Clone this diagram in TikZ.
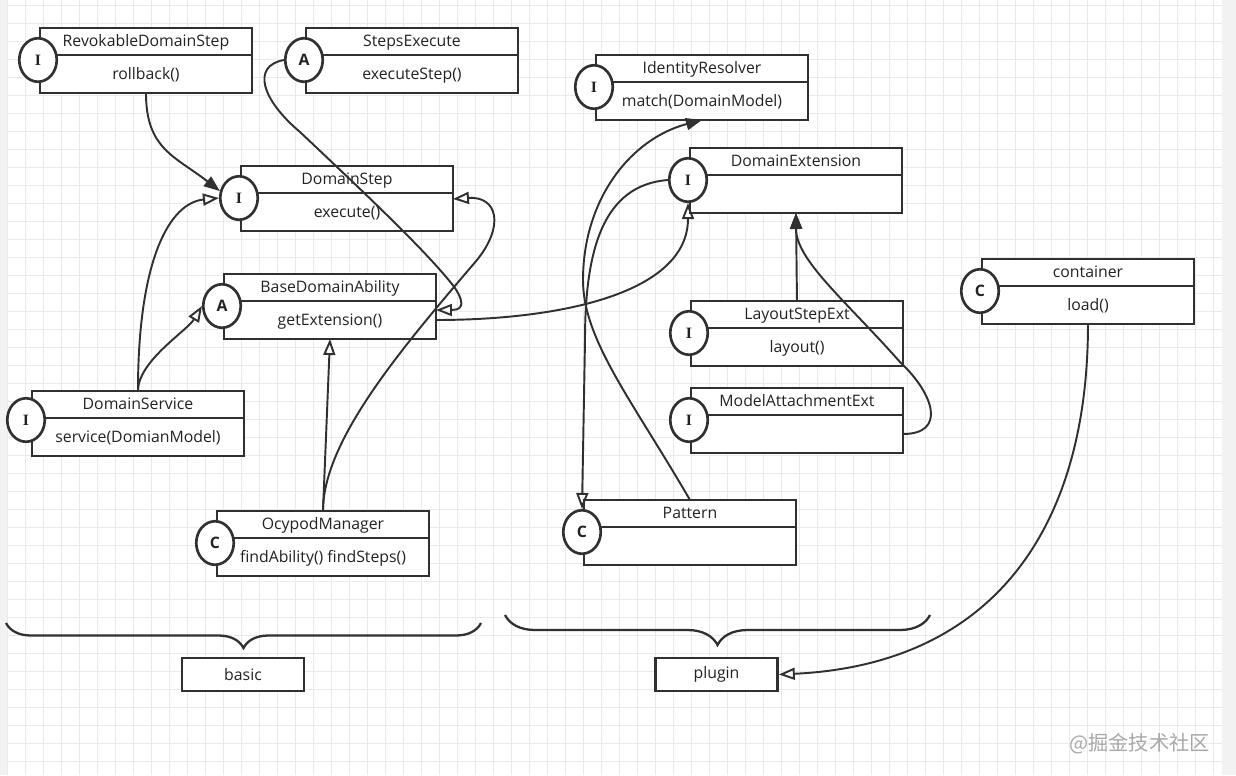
\documentclass[tikz,border=0pt]{standalone}
\usepackage{fontspec}
\setmainfont{Open Sans}
\newfontfamily\cjkfont{Noto Sans CJK SC}
\newfontfamily\serifbadge{Liberation Serif}
\usetikzlibrary{shapes.geometric, arrows.meta, positioning, decorations.pathreplacing}
\definecolor{umlline}{HTML}{303030}
\definecolor{umltext}{HTML}{222222}
\definecolor{gridgray}{HTML}{EAEAEA}
\definecolor{sidegray}{HTML}{F2F2F2}
\definecolor{wmgray}{HTML}{A8A8A8}

\begin{document}
\begin{tikzpicture}[
    x=0.02cm, y=-0.02cm,
    every node/.style={font=\fontsize{9}{10}\selectfont, text=umltext},
    clshead/.style={rectangle, draw=umlline, line width=1.5pt, fill=white, minimum width=4.24cm, minimum height=0.54cm, inner sep=0pt, outer sep=0pt, anchor=north west, text height=1.6ex, text depth=0.45ex},
    clsbody/.style={clshead, minimum height=0.76cm},
    badge/.style={ellipse, draw=umlline, line width=1.5pt, fill=white, minimum width=0.75cm, minimum height=0.87cm, inner sep=0pt, font=\fontsize{9}{10}\selectfont\bfseries},
    tagbox/.style={rectangle, draw=umlline, line width=1.5pt, fill=white, minimum width=2.44cm, minimum height=0.66cm, inner sep=0pt},
    link/.style={draw=umlline, line width=1.1pt},
    inherit/.style={link, -{Triangle[open, length=0.32cm, width=0.24cm]}},
    uses/.style={link, -{Triangle[length=0.32cm, width=0.24cm]}},
    grouping/.style={draw=umlline, line width=1.3pt, decorate, decoration={brace, mirror, amplitude=#1}}
]
\useasboundingbox (0,0) rectangle (1236,775);
% --- paper and grid ---
\fill[white] (0,0) rectangle (1236,775);
\fill[sidegray] (0,0) rectangle (7,775);
\fill[sidegray] (1222,0) rectangle (1236,775);
\foreach \gx in {7,25,...,1222} \draw[gridgray, line width=0.5pt] (\gx,0) -- (\gx,775);
\foreach \gy in {5,23,...,775} \draw[gridgray, line width=0.5pt] (7,\gy) -- (1222,\gy);

% --- basic classes ---
\node[clshead] (rev) at (40,28) {RevokableDomainStep};
\node[clsbody, below=0pt of rev] (revB) {rollback()};
\node[badge] (revL) at ([xshift=-0.04cm, yshift=-0.1cm]rev.south west) {\serifbadge I};

\node[clshead] (stx) at (306,28) {StepsExecute};
\node[clsbody, below=0pt of stx] (stxB) {executeStep()};
\node[badge] (stxL) at ([xshift=-0.04cm, yshift=-0.1cm]stx.south west) {A};

\node[clshead] (dstep) at (241,166) {DomainStep};
\node[clsbody, below=0pt of dstep] (dstepB) {execute()};
\node[badge] (dstepL) at ([xshift=-0.04cm, yshift=-0.1cm]dstep.south west) {\serifbadge I};

\node[clshead] (bda) at (224,274) {BaseDomainAbility};
\node[clsbody, below=0pt of bda] (bdaB) {getExtension()};
\node[badge] (bdaL) at ([xshift=-0.04cm, yshift=-0.1cm]bda.south west) {A};

\node[clshead] (dsvc) at (32,391) {DomainService};
\node[clsbody, below=0pt of dsvc] (dsvcB) {service(DomianModel)};
\node[badge] (dsvcL) at ([xshift=-0.12cm, yshift=-0.04cm]dsvc.south west) {\serifbadge I};

\node[clshead] (ocm) at (217,511) {OcypodManager};
\node[clsbody, below=0pt of ocm] (ocmB) {findAbility() findSteps()};
\node[badge] (ocmL) at ([xshift=-0.04cm, yshift=-0.1cm]ocm.south west) {C};

% --- plugin classes ---
\node[clshead] (idr) at (596,55) {IdentityResolver};
\node[clsbody, below=0pt of idr] (idrB) {match(DomainModel)};
\node[badge] (idrL) at ([xshift=-0.04cm, yshift=-0.1cm]idr.south west) {\serifbadge I};

\node[clshead] (dext) at (690,148) {DomainExtension};
\node[clsbody, below=0pt of dext] (dextB) {};
\node[badge] (dextL) at ([xshift=-0.04cm, yshift=-0.1cm]dext.south west) {\serifbadge I};

\node[clshead] (lay) at (691,301) {LayoutStepExt};
\node[clsbody, below=0pt of lay] (layB) {layout()};
\node[badge] (layL) at ([xshift=-0.04cm, yshift=-0.1cm]lay.south west) {\serifbadge I};

\node[clshead] (mae) at (691,388) {ModelAttachmentExt};
\node[clsbody, below=0pt of mae] (maeB) {};
\node[badge] (maeL) at ([xshift=-0.04cm, yshift=-0.1cm]mae.south west) {\serifbadge I};

\node[clshead] (pat) at (584,500) {Pattern};
\node[clsbody, below=0pt of pat] (patB) {};
\node[badge] (patL) at ([xshift=-0.04cm, yshift=-0.1cm]pat.south west) {C};

\node[clshead] (cont) at (982,259) {container};
\node[clsbody, below=0pt of cont] (contB) {load()};
\node[badge] (contL) at ([xshift=-0.04cm, yshift=-0.1cm]cont.south west) {C};

% --- groups ---
\coordinate (basicL) at (6,623);
\coordinate (basicR) at (481,623);
\draw[grouping=0.5cm] (basicL) -- (basicR);
\node[tagbox] (basic) at (243,674.5) {basic};
\coordinate (pluginL) at (505,615);
\coordinate (pluginR) at (930,615);
\draw[grouping=0.6cm] (pluginL) -- (pluginR);
\node[tagbox] (plugin) at (716.5,674.5) {plugin};

% --- basic links ---
\draw[uses] (revB.south) .. controls +(0,56) and +(-45,-35) .. (dstepL.160);
\draw[inherit] (dsvc.north) .. controls +(0,-130) and +(-50,5) .. (dstepL.west);
\draw[inherit] (dsvc.north) .. controls +(0,-30) and +(-15,25) .. (bdaL.west);
\draw[inherit] (ocm.north) -- (bdaB.south);
\draw[inherit] (ocm.north) .. controls +(0,-70) and (400,350) .. (477,260) .. controls (505,225) and (497,196) .. ([yshift=-0.12cm]dstepB.north east);
\draw[inherit] (stxL.west) .. controls +(-33,6) and (262,100) .. (300,132) .. controls (370,198) and (430,255) .. (455,288) .. controls (468,308) and (458,310) .. ([yshift=-0.18cm]bdaB.north east);
\draw[inherit] (bdaB.east) .. controls +(125,0) and +(0,90) .. (dextL.south);

% --- plugin links ---
\draw[uses] (pat.north) .. controls +(-58,-100) and +(0,60) .. (583,280) .. controls +(0,-80) and +(-72,19) .. (idrB.south);
\draw[inherit] (dextL.west) .. controls +(-65,5) and +(0,-90) .. (585,340) -- (patL.north);
\draw[uses] (lay.north) -- (dextB.south);
\draw[uses] (maeB.east) .. controls +(43,0) and +(35,33) .. (900,362) .. controls +(-55,-62) and +(0,47) .. (dextB.south);
\draw[inherit] (contB.south) .. controls +(0,206) and +(213,-10) .. (plugin.east);

\node[font=\cjkfont\fontsize{11.5}{12}\selectfont, text=wmgray, anchor=east] (wm) at (1216,744) {@掘金技术社区};
\end{tikzpicture}
\end{document}
